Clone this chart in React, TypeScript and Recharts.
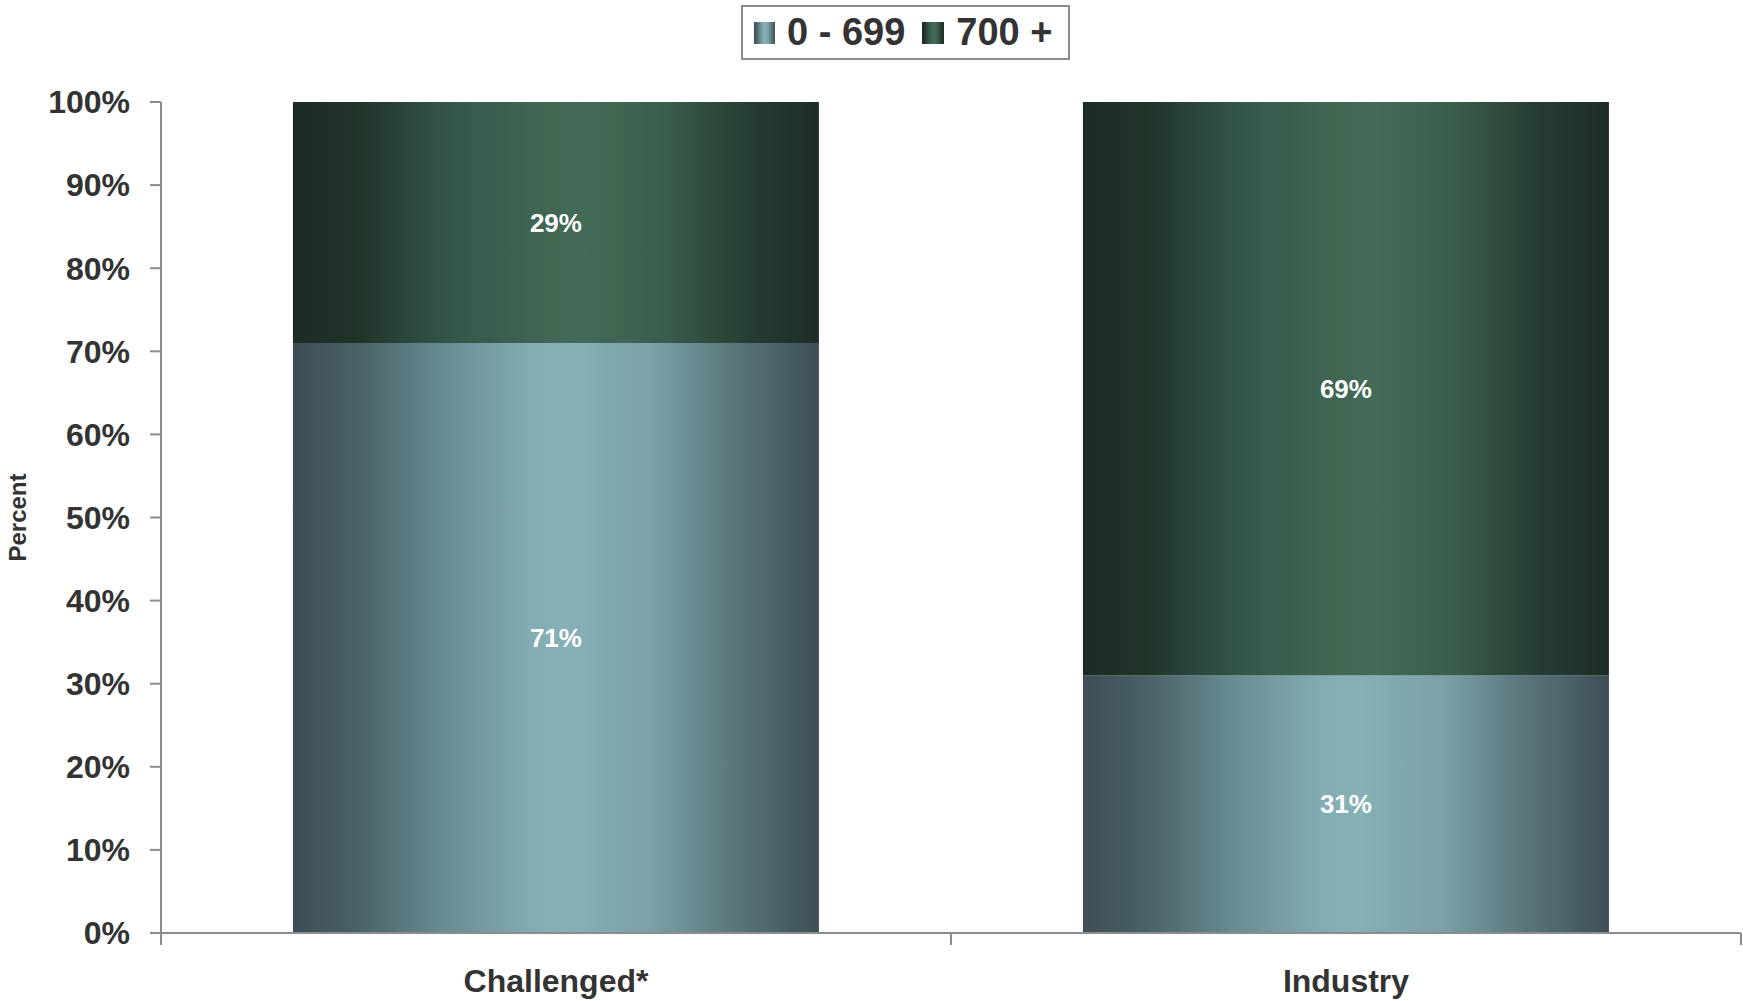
import React from 'react';
import { BarChart, Bar, XAxis, YAxis, LabelList } from 'recharts';

const categories = ['Challenged*', 'Industry'];
const lowScores = [71, 31];
const highScores = [29, 69];
const yTicks = [0, 10, 20, 30, 40, 50, 60, 70, 80, 90, 100];

const rows = categories.map((name, i) => ({ name, low: lowScores[i], high: highScores[i] }));

const FONT = '"Liberation Sans", Arial, sans-serif';
const AXIS = '#8c8c8c';

const lightStops = [
  ['0%', '#3d4e54'], ['12%', '#4a6167'], ['28%', '#668b91'], ['45%', '#82acb2'],
  ['52%', '#87b1b7'], ['68%', '#7aa2a8'], ['84%', '#5a767c'], ['100%', '#3d4f55'],
];
const darkStops = [
  ['0%', '#1c2c25'], ['12%', '#213329'], ['30%', '#34574a'], ['45%', '#3f6451'],
  ['55%', '#436b57'], ['70%', '#3b5e4c'], ['86%', '#273e33'], ['100%', '#1d2d26'],
];

const cssGrad = (stops: string[][]) =>
  `linear-gradient(to right, ${stops.map(s => `${s[1]} ${s[0]}`).join(', ')})`;

const PercentLabel = (props: any) => {
  const vb = props.viewBox || {};
  const cy = (vb.y || 102) + (vb.height || 831) / 2;
  return (
    <text x={26} y={cy} transform={`rotate(-90, 26, ${cy})`} textAnchor="middle"
      fontFamily={FONT} fontWeight="bold" fontSize={24} fill="#333">Percent</text>
  );
};

// category label plus tick marks on the band edges (excel style)
const CatTick = (props: any) => {
  const { x, y, payload, index, visibleTicksCount } = props;
  const half = payload.offset || 0;
  const y0 = y - 8;
  const last = index === (visibleTicksCount || 2) - 1;
  return (
    <g>
      <line x1={x - half} y1={y0} x2={x - half} y2={y0 + 12} stroke={AXIS} strokeWidth={2} />
      {last && <line x1={x + half} y1={y0} x2={x + half} y2={y0 + 12} stroke={AXIS} strokeWidth={2} />}
      <text x={x} y={y0 + 59} textAnchor="middle" fill="#333" fontFamily={FONT}
        fontWeight="bold" fontSize={32}>{payload.value}</text>
    </g>
  );
};

const App: React.FC = () => {
  return (
    <div style={{ position: 'absolute', left: 0, top: 0, width: 1743, height: 1001, background: '#fff' }}>
      {/* legend drawn as html so it does not push the plot down */}
      <div style={{
        position: 'absolute', left: 741, top: 5, width: 329, height: 55, boxSizing: 'border-box',
        border: '2px solid #8c8c8c', display: 'flex', alignItems: 'center', paddingLeft: 11,
        fontFamily: FONT, fontWeight: 'bold', fontSize: 38, color: '#333', zIndex: 2, background: '#fff',
      }}>
        <span style={{ width: 21, height: 22, background: cssGrad(lightStops), marginRight: 12 }}></span>
        <span>0 - 699</span>
        <span style={{ width: 22, height: 22, background: cssGrad(darkStops), marginLeft: 17, marginRight: 12 }}></span>
        <span>700 +</span>
      </div>

      <BarChart width={1743} height={1001} data={rows} barCategoryGap="16.7%"
        margin={{ top: 102, right: 2, bottom: 0, left: 0 }}>
        <defs>
          <linearGradient id="gLow" x1="0" y1="0" x2="1" y2="0">
            {lightStops.map(s => <stop key={s[0]} offset={s[0]} stopColor={s[1]} />)}
          </linearGradient>
          <linearGradient id="gHigh" x1="0" y1="0" x2="1" y2="0">
            {darkStops.map(s => <stop key={s[0]} offset={s[0]} stopColor={s[1]} />)}
          </linearGradient>
        </defs>
        <XAxis dataKey="name" height={68} interval={0}
          axisLine={{ stroke: AXIS, strokeWidth: 2 }}
          tickLine={false} tickSize={6} tickMargin={2}
          tick={<CatTick />} />
        <YAxis width={161} domain={[0, 100]} ticks={yTicks} interval={0}
          tickFormatter={(v: number) => `${v}%`}
          axisLine={{ stroke: AXIS, strokeWidth: 2 }}
          tickLine={{ stroke: AXIS, strokeWidth: 2 }} tickSize={11}
          tick={{ fill: '#333', fontFamily: FONT, fontWeight: 'bold', fontSize: 32, dx: -18 }}
          label={{ content: PercentLabel }} />
        <Bar dataKey="low" stackId="s" fill="url(#gLow)" isAnimationActive={false}>
          <LabelList dataKey="low" position="center" formatter={(v: any) => `${v}%`}
            fill="#fff" fontFamily={FONT} fontWeight="bold" fontSize={26} />
        </Bar>
        <Bar dataKey="high" stackId="s" fill="url(#gHigh)" isAnimationActive={false}>
          <LabelList dataKey="high" position="center" formatter={(v: any) => `${v}%`}
            fill="#fff" fontFamily={FONT} fontWeight="bold" fontSize={26} />
        </Bar>
      </BarChart>
    </div>
  );
};

export default App;
